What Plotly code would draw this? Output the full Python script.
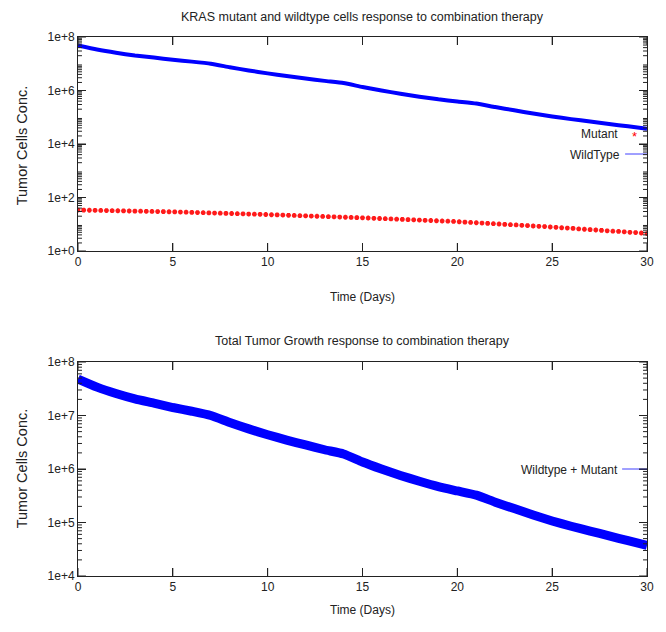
import plotly.graph_objects as go

# ---------------- data ----------------
days = list(range(0, 31))

wildtype_cells = [
    4.79e7, 3.39e7, 2.57e7, 2.04e7, 1.70e7, 1.41e7, 1.20e7, 1.00e7,
    7.41e6, 5.62e6, 4.37e6, 3.47e6, 2.82e6, 2.29e6, 1.91e6,
    1.35e6, 1.00e6, 7.59e5, 5.89e5, 4.68e5, 3.89e5, 3.24e5,
    2.40e5, 1.82e5, 1.38e5, 1.07e5, 8.51e4, 6.92e4, 5.62e4, 4.57e4, 3.72e4,
]

mutant_cells = [
    34.0, 33.7, 33.4, 33.1, 32.8, 32.5, 32.2, 31.9, 31.6, 31.3, 31.0, 30.7, 30.4, 30.1, 29.8, 29.6, 29.3,
    29.0, 28.6, 28.2, 27.8, 27.4, 27.0, 26.6, 26.2, 25.9, 25.5, 25.2, 24.8, 24.5, 24.1, 23.8, 23.5, 23.1,
    22.7, 22.4, 22.0, 21.6, 21.3, 20.9, 20.6, 20.2, 19.9, 19.6, 19.2, 18.9, 18.6, 18.3, 18.0, 17.7, 17.4,
    17.1, 16.7, 16.4, 16.1, 15.8, 15.5, 15.2, 14.9, 14.6, 14.3, 14.0, 13.8, 13.5, 13.2, 13.0, 12.7,
    12.4, 12.0, 11.7, 11.4, 11.1, 10.8, 10.5, 10.2, 9.9, 9.6, 9.4, 9.1, 8.9, 8.6, 8.4, 8.2, 7.9,
    7.7, 7.4, 7.2, 7.0, 6.7, 6.5, 6.3, 6.1, 5.9, 5.7, 5.5, 5.4, 5.2, 5.0, 4.9, 4.7, 4.5,
]
mutant_days = [round(0.3 * i, 1) for i in range(len(mutant_cells))]

total_cells = [
    4.79e7, 3.39e7, 2.57e7, 2.04e7, 1.70e7, 1.41e7, 1.20e7, 1.00e7,
    7.41e6, 5.62e6, 4.37e6, 3.47e6, 2.82e6, 2.29e6, 1.91e6,
    1.35e6, 1.00e6, 7.59e5, 5.89e5, 4.68e5, 3.89e5, 3.24e5,
    2.40e5, 1.82e5, 1.38e5, 1.07e5, 8.51e4, 6.92e4, 5.62e4, 4.57e4, 3.72e4,
]

x_ticks = [0, 5, 10, 15, 20, 25, 30]
top_y_tickvals = [1e0, 1e2, 1e4, 1e6, 1e8]
top_y_ticktext = ["1e+0", "1e+2", "1e+4", "1e+6", "1e+8"]
bot_y_tickvals = [1e4, 1e5, 1e6, 1e7, 1e8]
bot_y_ticktext = ["1e+4", "1e+5", "1e+6", "1e+7", "1e+8"]

title_top = "KRAS mutant and wildtype cells response to combination therapy"
title_bot = "Total Tumor Growth response to combination therapy"

# ---------------- figure ----------------
FONT = "Liberation Sans, Arial, Helvetica, sans-serif"
AX = "#222222"

fig = go.Figure()

fig.add_trace(go.Scatter(
    x=days, y=wildtype_cells, mode="lines", name="WildType", xaxis="x", yaxis="y",
    line=dict(color="#0000ff", width=4, shape="spline", smoothing=0.5),
))
fig.add_trace(go.Scatter(
    x=mutant_days, y=mutant_cells, mode="markers", name="Mutant", xaxis="x", yaxis="y",
    marker=dict(symbol="asterisk", size=4, color="#ff0000",
                line=dict(color="#ff1a1a", width=1.6)),
))
fig.add_trace(go.Scatter(
    x=days, y=total_cells, mode="lines", name="Wildtype + Mutant", xaxis="x2", yaxis="y2",
    line=dict(color="#0000ff", width=9, shape="spline", smoothing=0.5),
))

H0, H1 = 37, 576  # plot area pixel top/bottom
def py(p):
    return (H1 - p) / (H1 - H0)

def px(xp):
    return (xp - 78) / 572

top_dom = [py(251), 1.0]
bot_dom = [0.0, py(362)]

xaxis_common = dict(
    range=[0, 30], dtick=5, ticks="inside", ticklen=8,
    tickwidth=1, tickcolor=AX, showline=True, linecolor=AX,
    mirror="allticks", gridcolor="rgba(0,0,0,0)",
    tickfont=dict(family=FONT, size=12, color="#222"),
)
yaxis_common = dict(
    type="log", ticks="inside", ticklen=8, tickwidth=1, tickcolor=AX,
    showline=True, linecolor=AX, mirror="allticks",
    gridcolor="rgba(0,0,0,0)", tickfont=dict(family=FONT, size=12, color="#222"),
)

fig.update_layout(
    width=666, height=632,
    margin=dict(l=78, r=16, t=H0, b=632 - H1),
    paper_bgcolor="white", plot_bgcolor="white",
    showlegend=False,
    xaxis=dict(**xaxis_common, domain=[0, 1], anchor="y"),
    xaxis2=dict(**xaxis_common, domain=[0, 1], anchor="y2"),
    yaxis=dict(**yaxis_common, domain=top_dom, range=[0, 8],
               tickvals=top_y_tickvals, ticktext=top_y_ticktext, anchor="x"),
    yaxis2=dict(**yaxis_common, domain=bot_dom, range=[4, 8],
                tickvals=bot_y_tickvals, ticktext=bot_y_ticktext, anchor="x2"),
)

txt = dict(family=FONT, size=12, color="#222")
ann = []
ann.append(dict(text=title_top, x=0.5, y=py(17), xref="paper", yref="paper",
                showarrow=False, font=dict(family=FONT, size=12.5, color="#222"),
                xanchor="center", yanchor="middle"))
ann.append(dict(text=title_bot, x=0.5, y=py(341), xref="paper", yref="paper",
                showarrow=False, font=dict(family=FONT, size=12.5, color="#222"),
                xanchor="center", yanchor="middle"))
for p in (297, 610):
    ann.append(dict(text="Time (Days)", x=0.5, y=py(p), xref="paper", yref="paper",
                    showarrow=False, font=txt, xanchor="center", yanchor="middle"))
for p in (145, 468):
    ann.append(dict(text="Tumor Cells Conc.", x=px(22), y=py(p), xref="paper",
                    yref="paper", showarrow=False,
                    font=dict(family=FONT, size=14.5, color="#222"), textangle=-90,
                    xanchor="center", yanchor="middle"))

ann.append(dict(text="Mutant", x=px(623), y=py(134), xref="paper", yref="paper",
                showarrow=False, font=txt, xanchor="right", yanchor="middle"))
ann.append(dict(text="WildType", x=px(625), y=py(155), xref="paper", yref="paper",
                showarrow=False, font=txt, xanchor="right", yanchor="middle"))
ann.append(dict(text="Wildtype + Mutant", x=px(623), y=py(470), xref="paper", yref="paper",
                showarrow=False, font=txt, xanchor="right", yanchor="middle"))
ann.append(dict(text="*", x=px(637), y=py(136), xref="paper", yref="paper",
                showarrow=False, font=dict(family=FONT, size=13, color="#ff0000"),
                xanchor="center", yanchor="middle"))
fig.update_layout(annotations=ann)

shapes = [
    dict(type="line", xref="paper", yref="paper", x0=px(628), x1=px(650),
         y0=py(154), y1=py(154), line=dict(color="#4040ff", width=1)),
    dict(type="line", xref="paper", yref="paper", x0=px(625), x1=px(650),
         y0=py(469), y1=py(469), line=dict(color="#4040ff", width=1)),
]

# gnuplot-style inside tick marks (major + log minor), mirrored on all four sides
tick_line = dict(color=AX, width=1)

def add_ticks(xr, yr, top_px, bot_px, major_vals, decades):
    # x ticks: data x, paper y (bottom and top borders of the panel)
    for xv in x_ticks:
        for y0, y1 in ((py(bot_px), py(bot_px - 8)), (py(top_px + 8), py(top_px))):
            shapes.append(dict(type="line", xref=xr, yref="paper", x0=xv, x1=xv,
                               y0=y0, y1=y1, line=tick_line, layer="above"))
    # y major ticks: paper x, data y (raw values on the log axis)
    for yv in major_vals:
        for x0, x1 in ((0, px(86)), (px(642), 1)):
            shapes.append(dict(type="line", xref="paper", yref=yr, x0=x0, x1=x1,
                               y0=yv, y1=yv, line=tick_line, layer="above"))
    # y minor ticks at 2..9 x 10^d
    for d in decades:
        for k in range(2, 10):
            yv = k * 10 ** d
            for x0, x1 in ((0, px(82)), (px(646), 1)):
                shapes.append(dict(type="line", xref="paper", yref=yr, x0=x0, x1=x1,
                                   y0=yv, y1=yv, line=tick_line, layer="above"))

add_ticks("x", "y", 37, 251, top_y_tickvals, range(0, 8))
add_ticks("x2", "y2", 362, 576, bot_y_tickvals, range(4, 8))

fig.update_layout(shapes=shapes)

fig.write_html("out.html")
